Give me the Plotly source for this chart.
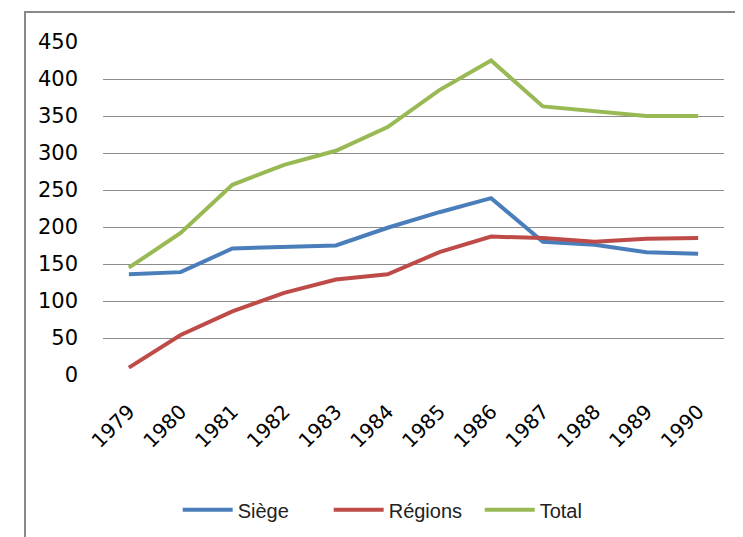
import plotly.graph_objects as go

years = ["1979", "1980", "1981", "1982", "1983", "1984",
         "1985", "1986", "1987", "1988", "1989", "1990"]
siege = [136, 139, 171, 173, 175, 199, 220, 239, 180, 176, 166, 164]
regions = [10, 54, 86, 111, 129, 136, 166, 187, 185, 180, 184, 185]
total = [145, 192, 257, 284, 303, 335, 385, 425, 363, 356, 350, 350]

series = [
    ("Siège", siege, "#4A7EBB"),
    ("Régions", regions, "#BE4B48"),
    ("Total", total, "#98B954"),
]

fig = go.Figure()
for name, values, color in series:
    fig.add_trace(go.Scatter(
        x=years, y=values, mode="lines", name=name,
        line=dict(color=color, width=4),
    ))

# page body adds an 8px offset, margins are set to compensate
fig.update_layout(
    width=743, height=537,
    margin=dict(l=95, r=27, t=34, b=170),
    paper_bgcolor="white", plot_bgcolor="white",
    font=dict(family="DejaVu Sans", color="#000000"),
    showlegend=True,
    legend=dict(
        orientation="h", x=0.485, xanchor="center", y=-0.405, yanchor="middle",
        font=dict(family="Liberation Sans", size=20, color="#222222"),
        itemwidth=50, tracegroupgap=0,
        entrywidth=86, entrywidthmode="pixels",
    ),
    xaxis=dict(
        type="category", range=[-0.5, 11.5], tickangle=-45,
        showgrid=False, showline=False, ticks="", automargin=False,
        tickfont=dict(size=20), zeroline=False, ticklabelstandoff=20,
    ),
    yaxis=dict(
        range=[0, 450], dtick=50, showgrid=True, gridcolor="#8C8C8C",
        gridwidth=1, zeroline=False, showline=False, ticks="", automargin=False,
        tickfont=dict(size=21), ticklabelstandoff=24,
    ),
    shapes=[dict(
        type="rect", xref="paper", yref="paper",
        x0=-0.1256, x1=1.2, y0=-0.7, y1=1.09,
        line=dict(color="#8A8A8A", width=2), layer="below",
    )],
)

fig.write_html("out.html")
